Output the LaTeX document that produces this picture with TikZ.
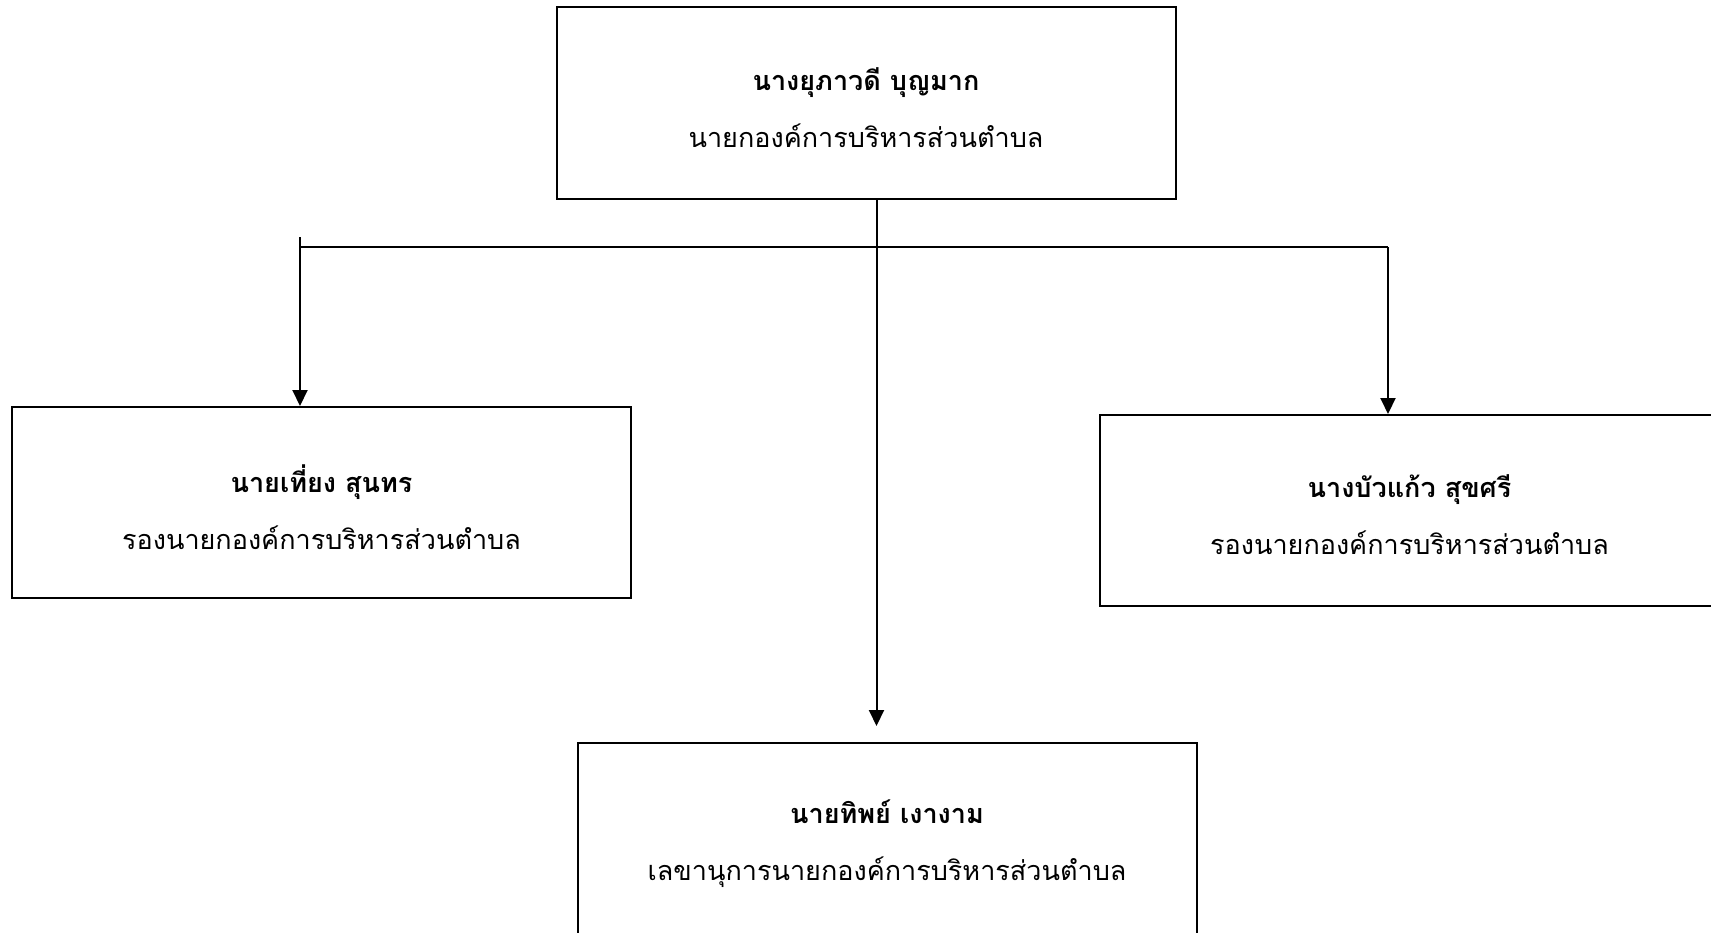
\documentclass[tikz,border=0pt]{standalone}
\usepackage{fontspec}
\newfontfamily\thai[Script=Thai]{Loma}
\usetikzlibrary{arrows.meta}
\begin{document}
\begin{tikzpicture}[x=1pt,y=-1pt,
  box/.style={draw,line width=2pt,minimum width=619pt,minimum height=191pt,inner sep=0pt},
  txt/.style={inner sep=0pt,align=center,font=\thai\fontsize{27}{36}\selectfont},
  conn/.style={line width=2pt},
  arr/.style={conn,-{Triangle[length=16pt,width=15pt]}}]
\useasboundingbox (0,0) rectangle (1711,932);
\clip (0,0) rectangle (1711,932);
\node[box,minimum height=192pt] (top) at (866,102.5) {};
\node[box] (left) at (321.5,502.5) {};
\node[box] (right) at (1409.5,510.5) {};
\node[box] (bot) at (887,838.5) {};
\node[txt] (topt) at ([yshift=-5pt]top.center) {\textbf{นางยุภาวดี บุญมาก}\\[21pt]นายกองค์การบริหารส่วนตำบล};
\node[txt] (leftt) at ([yshift=-4.5pt]left.center) {\textbf{นายเที่ยง สุนทร}\\[21pt]รองนายกองค์การบริหารส่วนตำบล};
\node[txt] (rightt) at ([yshift=-4pt]right.center) {\textbf{นางบัวแก้ว สุขศรี}\\[21pt]รองนายกองค์การบริหารส่วนตำบล};
\node[txt] (bott) at ([yshift=-5pt]bot.center) {\textbf{นายทิพย์ เงางาม}\\[21pt]เลขานุการนายกองค์การบริหารส่วนตำบล};
\coordinate (lt) at (300,237);
\coordinate (bar) at (876.5,247);
\draw[arr] (top.south -| bar) -- ([yshift=16pt]bot.north -| bar);
\draw[conn] (lt |- bar) -- (bar) -- (1388,247) coordinate (rt);
\draw[arr] (lt) -- (left.north -| lt);
\draw[arr] (rt) -- (right.north -| rt);
\end{tikzpicture}
\end{document}
